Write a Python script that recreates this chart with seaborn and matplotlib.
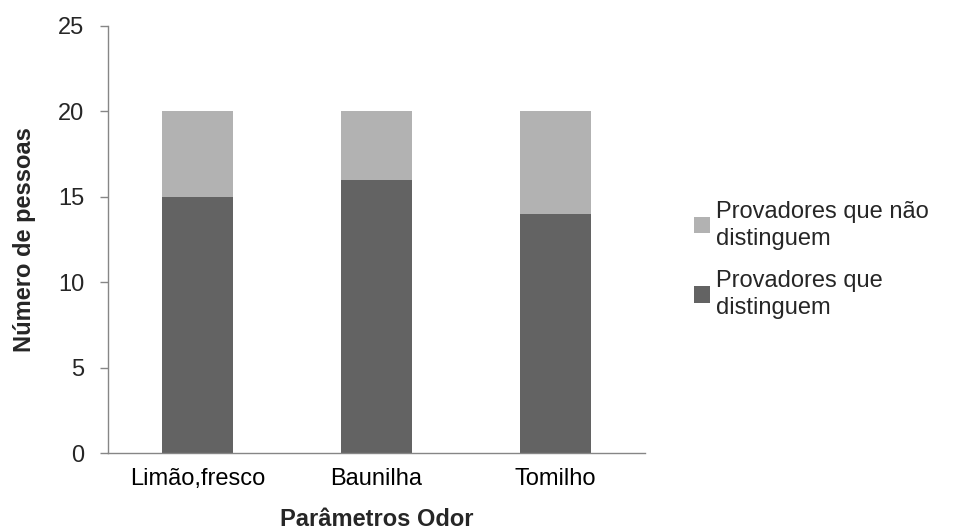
import matplotlib
matplotlib.use("Agg")
import matplotlib.pyplot as plt
from matplotlib.patches import Patch
import seaborn as sns
import pandas as pd

# Odour test results per sample
categorias = ["Limão,fresco", "Baunilha", "Tomilho"]
distinguem = [15, 16, 14]
nao_distinguem = [5, 4, 6]
serie_nao = "Provadores que não\ndistinguem"
serie_sim = "Provadores que\ndistinguem"

cor_sim = "#636363"
cor_nao = "#b2b2b2"
cor_eixo = "#868686"
fs = 17

df = pd.DataFrame({
    "categoria": categorias,
    "distinguem": distinguem,
    "nao": nao_distinguem,
})
df["total"] = df["distinguem"] + df["nao"]

sns.set_style("white")
plt.rcParams["font.family"] = ["Liberation Sans", "DejaVu Sans"]

fig = plt.figure(figsize=(9.57, 5.30), dpi=100)
ax = fig.add_axes([0.113, 0.145, 0.561, 0.806])

# stacked bars: upper segment drawn as the full stack, lower segment on top of it
sns.barplot(data=df, x="categoria", y="total", color=cor_nao, width=0.4,
            saturation=1, ax=ax, edgecolor="none")
sns.barplot(data=df, x="categoria", y="distinguem", color=cor_sim, width=0.4,
            saturation=1, ax=ax, edgecolor="none")

ax.set_ylim(0, 25)
ax.set_yticks([0, 5, 10, 15, 20, 25])
ax.set_xlim(-0.5, 2.5)
ax.set_xticks(range(len(categorias)))
ax.set_xticklabels(categorias)
ax.set_xticks([-0.5, 0.5, 1.5, 2.5], minor=True)
ax.tick_params(axis="x", which="major", length=0, pad=11, labelsize=fs, colors="black")
ax.tick_params(axis="x", which="minor", length=6, width=1, color=cor_eixo, direction="out")
ax.tick_params(axis="y", length=6, width=1, color=cor_eixo, direction="out",
               labelsize=fs, pad=11, left=True)

for s in ["top", "right"]:
    ax.spines[s].set_visible(False)
for s in ["left", "bottom"]:
    ax.spines[s].set_visible(True)
    ax.spines[s].set_color(cor_eixo)
    ax.spines[s].set_linewidth(1)

ax.set_xlabel("Parâmetros Odor", fontsize=fs, fontweight="bold", labelpad=13)
ax.set_ylabel("Número de pessoas", fontsize=fs, fontweight="bold", labelpad=16)

handles = [Patch(facecolor=cor_nao, edgecolor="none", label=serie_nao),
           Patch(facecolor=cor_sim, edgecolor="none", label=serie_sim)]
leg = fig.legend(handles=handles, loc="center left", bbox_to_anchor=(0.703, 0.51),
                 frameon=False, fontsize=fs, handlelength=0.68, handleheight=0.68,
                 handletextpad=0.25, labelspacing=0.85)
for t in leg.get_texts():
    t.set_linespacing(1.3)

fig.savefig("out.png", dpi=100)
